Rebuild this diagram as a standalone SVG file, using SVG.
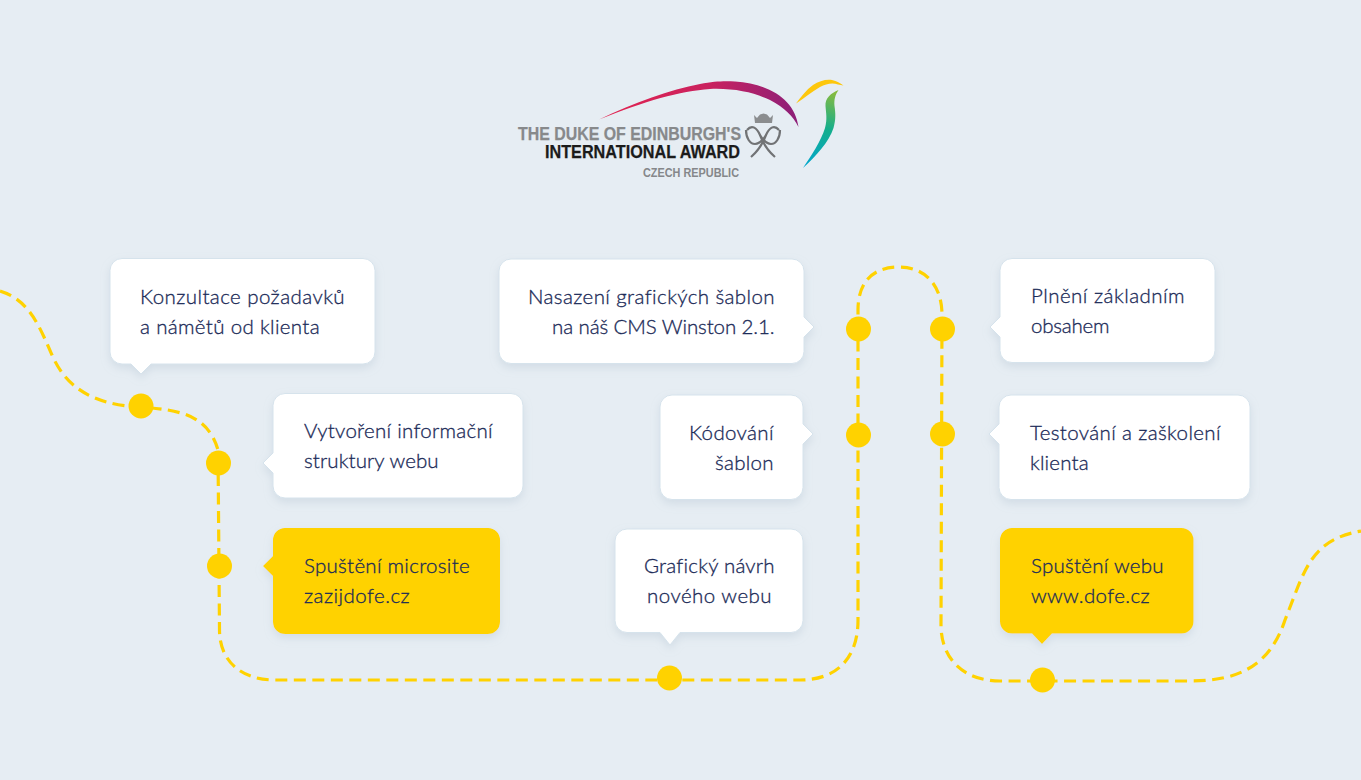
<svg xmlns="http://www.w3.org/2000/svg" width="1361" height="780" viewBox="0 0 1361 780">
<style>
.b{fill:#fff;stroke:#d6e3ec;stroke-width:1;filter:url(#s)}
.y{fill:#ffd200;filter:url(#s)}
.t{font-family:"Lato","Noto Sans",sans-serif;font-size:20.500px;font-weight:300;fill:#1c2b58;letter-spacing:.4px;stroke:#1c2b58;stroke-width:.32px}
.e{text-anchor:end}
.d{fill:#ffd200}
.l{font-family:"Liberation Sans Narrow","Liberation Sans",sans-serif;font-weight:700;stroke-width:.25px}
</style>
<defs>
<filter id="s" x="-10%" y="-10%" width="120%" height="130%"><feDropShadow dx="0" dy="4" stdDeviation="4" flood-color="#9fb4c4" flood-opacity=".28"/></filter>
<linearGradient id="g1" gradientUnits="userSpaceOnUse" x1="600" y1="120" x2="798" y2="125"><stop offset="0" stop-color="#e3234f"/><stop offset=".55" stop-color="#c9225f"/><stop offset="1" stop-color="#8c1f78"/></linearGradient>
<linearGradient id="g2" gradientUnits="userSpaceOnUse" x1="832" y1="92" x2="805" y2="168"><stop offset="0" stop-color="#86bb3f"/><stop offset=".45" stop-color="#14ae8c"/><stop offset="1" stop-color="#00a6d0"/></linearGradient>
</defs>
<rect width="1361" height="780" fill="#e6edf3"/>
<g id="logo">
<path d="M599 119.500C635 102 670 90 700 84C715 81 725 81 735 81.500C770 84 795 100 798.500 127C793 116 785 108 770 100C755 93 735 88 710 89C680 91 645 101 599 119.500Z" fill="url(#g1)"/>
<path d="M796 103.500C801 97 806 90 813 85C819 81 826 79 832 80C837 81 840 83 843.500 85.500L838 84.500C832 82.500 826 84 820 87C811 92 805 98 796 103.500Z" fill="#fdc70c"/>
<path d="M838.500 90C831 93 825 98 825.500 106C826 113 827.500 119 825 128C821 141 811 156 803 168C816 156 829 142 833.500 128C836 119 835.500 113 834.500 106C834 100 835 95 838.500 90Z" fill="url(#g2)"/>
<text class="l" x="518" y="139.500" font-size="18" fill="#87898b" stroke="#87898b" textLength="223" lengthAdjust="spacingAndGlyphs">THE DUKE OF EDINBURGH'S</text>
<text class="l" x="545" y="157.700" font-size="18" fill="#1b1b1b" stroke="#1b1b1b" textLength="195" lengthAdjust="spacingAndGlyphs">INTERNATIONAL AWARD</text>
<text class="l" x="643" y="177" font-size="12" fill="#85878a" textLength="96" lengthAdjust="spacingAndGlyphs">CZECH REPUBLIC</text>
<path d="M754 115L757 118L760 114.500L763.500 113.500L767 114.500L770 118L773 115L772 123H755Z" fill="#8b8d8f"/>
<path d="M747 130C752 124 757 128 760 135C763 143 768 151 775 157M746 130C746 138 750 144 755 144C759 144 763 140 766 135M779 130C774 124 769 128 766 135C763 143 758 151 751 157M780 130C780 138 776 144 771 144C767 144 763 140 760 135" fill="none" stroke="#717375" stroke-width="2.200"/>
</g>
<g id="connectors">
<path d="M0 291C30 300 40 328 52 355C65 385 90 405 141 407C180 410 208 415 218 450L219.500 630C219.500 660 240 680 275 680L800 680C835 680 858 660 858 620L858 310C858 285 870 267 899 267C925 267 942 285 942 315L941 625C941 660 965 681 1000 681L1190 681C1240 681 1270 665 1285 620C1305 570 1310 540 1361 531" fill="none" stroke="#ffd200" stroke-width="3.200" stroke-dasharray="12 6.500"/>
</g>
<g id="n1"><path class="b" d="M122 258.500H363a12 12 0 0 1 12 12V352a12 12 0 0 1-12 12H151L141 374L131 364H122a12 12 0 0 1-12-12V270.500a12 12 0 0 1 12-12Z"/><text class="t" x="140" y="304" textLength="205">Konzultace požadavků</text><text class="t" x="140" y="334" textLength="180">a námětů od klienta</text><circle class="d" cx="141" cy="406" r="12.500"/></g>
<g id="n2"><path class="b" d="M285 393.500H511a12 12 0 0 1 12 12V486a12 12 0 0 1-12 12H285a12 12 0 0 1-12-12V473L263 463L273 453V405.500a12 12 0 0 1 12-12Z"/><text class="t" x="304" y="438" textLength="189">Vytvoření informační</text><text class="t" x="304" y="468" textLength="135">struktury webu</text><circle class="d" cx="218.500" cy="463" r="12.500"/></g>
<g id="n3"><path class="y" d="M285 528H488a12 12 0 0 1 12 12V622a12 12 0 0 1-12 12H285a12 12 0 0 1-12-12V576L263 566L273 556V540a12 12 0 0 1 12-12Z"/><text class="t" x="304" y="573" textLength="166">Spuštění microsite</text><text class="t" x="304" y="603" textLength="106">zazijdofe.cz</text><circle class="d" cx="219.500" cy="566" r="12.500"/></g>
<g id="n4"><path class="b" d="M511 259H792a12 12 0 0 1 12 12V317L814 327L804 337V351.500a12 12 0 0 1-12 12H511a12 12 0 0 1-12-12V271a12 12 0 0 1 12-12Z"/><text class="t" x="528" y="304" textLength="247">Nasazení grafických šablon</text><text class="t" x="552" y="334" textLength="223">na náš CMS Winston 2.1.</text><circle class="d" cx="858.500" cy="329" r="12.500"/></g>
<g id="n5"><path class="b" d="M672 395H791a12 12 0 0 1 12 12V424L813 434L803 444V487.500a12 12 0 0 1-12 12H672a12 12 0 0 1-12-12V407a12 12 0 0 1 12-12Z"/><text class="t" x="689" y="440" textLength="85">Kódování</text><text class="t" x="715" y="470" textLength="59">šablon</text><circle class="d" cx="858.500" cy="435" r="12.500"/></g>
<g id="n6"><path class="b" d="M627 529H791a12 12 0 0 1 12 12V620.500a12 12 0 0 1-12 12H680L670 645L660 632.500H627a12 12 0 0 1-12-12V541a12 12 0 0 1 12-12Z"/><text class="t" x="644" y="573" textLength="131">Grafický návrh</text><text class="t" x="647" y="603" textLength="125">nového webu</text><circle class="d" cx="669.500" cy="678" r="12.500"/></g>
<g id="n7"><path class="b" d="M1012 258.500H1203a12 12 0 0 1 12 12V350.500a12 12 0 0 1-12 12H1012a12 12 0 0 1-12-12V337L990 327L1000 317V270.500a12 12 0 0 1 12-12Z"/><text class="t" x="1031" y="303" textLength="154">Plnění základním</text><text class="t" x="1031" y="333" textLength="79">obsahem</text><circle class="d" cx="942.500" cy="329" r="12.500"/></g>
<g id="n8"><path class="b" d="M1011 395H1238a12 12 0 0 1 12 12V487.500a12 12 0 0 1-12 12H1011a12 12 0 0 1-12-12V444L989 434L999 424V407a12 12 0 0 1 12-12Z"/><text class="t" x="1030" y="440" textLength="191">Testování a zaškolení</text><text class="t" x="1030" y="470" textLength="59">klienta</text><circle class="d" cx="942.500" cy="434" r="12.500"/></g>
<g id="n9"><path class="y" d="M1012 528H1181.500a12 12 0 0 1 12 12V621.500a12 12 0 0 1-12 12H1052L1042 644L1032 633.500H1012a12 12 0 0 1-12-12V540a12 12 0 0 1 12-12Z"/><text class="t" x="1031" y="573" textLength="133">Spuštění webu</text><text class="t" x="1031" y="603" textLength="119">www.dofe.cz</text><circle class="d" cx="1042.500" cy="680" r="12.500"/></g>
</svg>
